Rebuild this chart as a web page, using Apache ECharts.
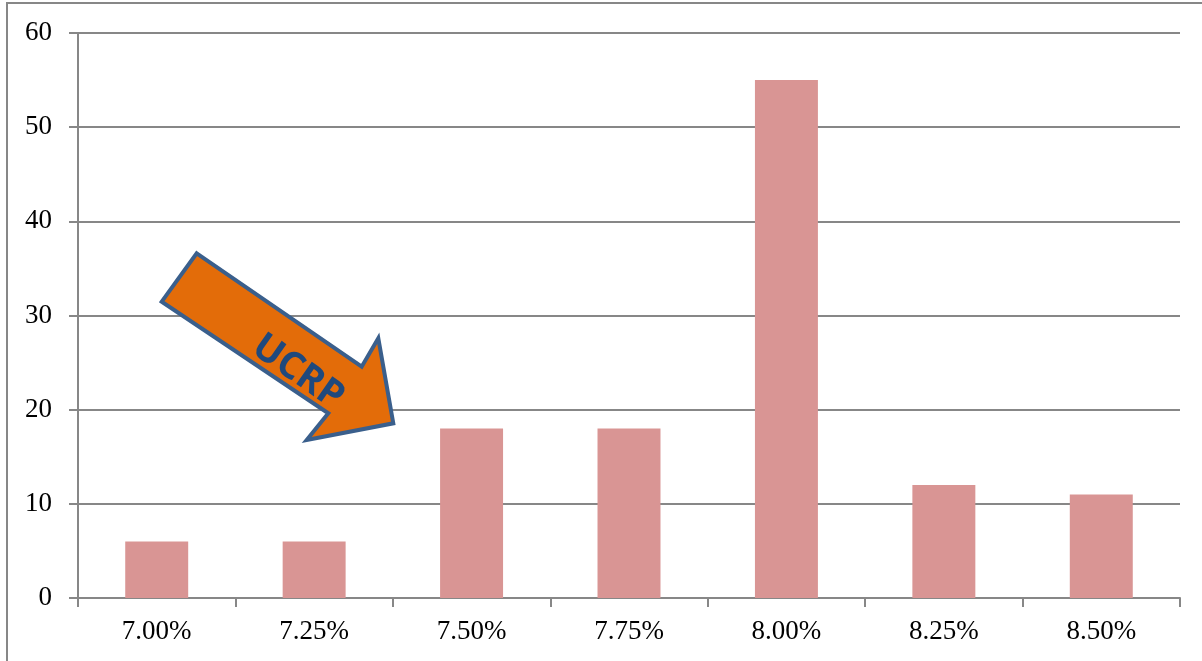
<!DOCTYPE html>
<html><head><meta charset="utf-8">
<script src="https://cdn.jsdelivr.net/npm/echarts@6/dist/echarts.min.js"></script>
<style>html,body{margin:0;padding:0;background:#fff}#c{width:1202px;height:661px}</style>
</head><body><div id="c"></div>
<script>
const categories = ['7.00%','7.25%','7.50%','7.75%','8.00%','8.25%','8.50%'];
const values = [6, 6, 18, 18, 55, 12, 11];
const yTicks = {min: 0, max: 60, interval: 10};
const annotationText = 'UCRP';

const chart = echarts.init(document.getElementById('c'));
const gray = '#878787';
chart.setOption({
  animation: false,
  backgroundColor: '#fff',
  grid: {left: 78, right: 22, top: 33, bottom: 63, containLabel: false},
  xAxis: {
    type: 'category', data: categories,
    axisLine: {lineStyle: {color: gray, width: 2}},
    axisTick: {show: true, alignWithLabel: false, length: 9, lineStyle: {color: gray, width: 2}},
    axisLabel: {color: '#000', fontFamily: 'Liberation Serif', fontSize: 27, margin: 20},
    splitLine: {show: false}
  },
  yAxis: {
    type: 'value', min: yTicks.min, max: yTicks.max, interval: yTicks.interval,
    axisLine: {show: true, lineStyle: {color: gray, width: 2}},
    axisTick: {show: true, length: 9, lineStyle: {color: gray, width: 2}},
    axisLabel: {color: '#000', fontFamily: 'Liberation Serif', fontSize: 27, margin: 26},
    splitLine: {show: true, lineStyle: {color: gray, width: 2}}
  },
  series: [{
    type: 'bar', data: values, barWidth: '40%',
    itemStyle: {color: '#D99594'}
  }],
  graphic: [
    {type: 'rect', shape: {x: 7, y: 3, width: 1400, height: 900}, style: {fill: 'none', stroke: gray, lineWidth: 2}, z: 100},
    {type: 'polygon', z: 101,
      shape: {points: [[196.7,253.3],[361.7,366.7],[378.3,338.3],[393.3,423.3],[306.7,440],[328.3,413.3],[161.7,301.7]]},
      style: {fill: '#E36C09', stroke: '#3A5F8C', lineWidth: 4, lineJoin: 'miter'}
    },
    {type: 'text', z: 102, x: 298, y: 372, rotation: -35 * Math.PI / 180,
      style: {text: annotationText, fill: '#1F497D', font: 'bold 38px "Open Sans"', textAlign: 'center', textVerticalAlign: 'middle'}
    }
  ]
});
</script></body></html>
